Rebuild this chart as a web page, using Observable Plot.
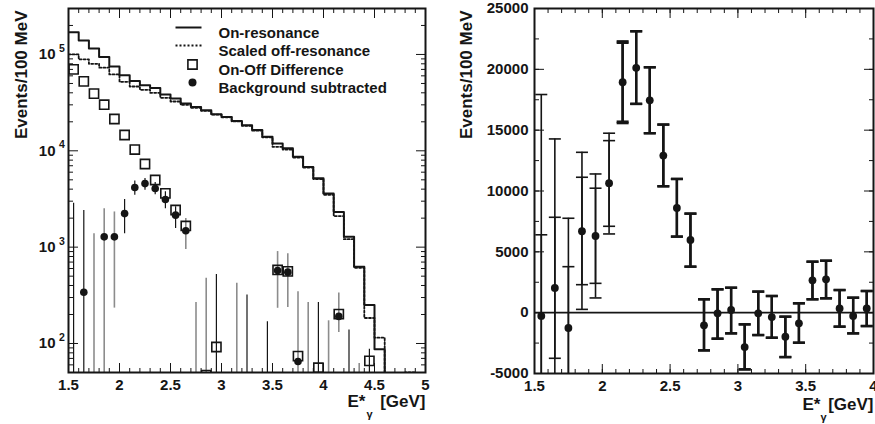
<!DOCTYPE html>
<html><head><meta charset="utf-8">
<script src="https://cdn.jsdelivr.net/npm/d3@7"></script>
<script src="https://cdn.jsdelivr.net/npm/@observablehq/plot@0.6"></script>
<style>
html,body{margin:0;padding:0;background:#fff;overflow:hidden;}
#wrap{position:relative;width:875px;height:424px;overflow:hidden;background:#fff;}
#left{position:absolute;left:0;top:0;width:440px;height:424px;}
#right{position:absolute;left:440px;top:0;width:460px;height:424px;}
svg{max-width:none !important;}
svg text{font-family:"Liberation Sans",Arial,Helvetica,sans-serif;font-weight:bold;}
</style></head><body>
<div id="wrap"><div id="left"></div><div id="right"></div></div>
<script>
// ---------- Left panel data (log scale) ----------
const binEdges = [1.5,1.6,1.7,1.8,1.9,2.0,2.1,2.2,2.3,2.4,2.5,2.6,2.7,2.8,2.9,3.0,3.1,3.2,3.3,3.4,3.5,3.6,3.7,3.8,3.9,4.0,4.1,4.2,4.3,4.4,4.5,4.6,4.7,4.8,4.9,5.0];
const onRes  = [170000,140000,115000,94000,75000,61000,53000,48000,45000,38500,35000,31000,28500,26300,24000,22500,20400,18400,16400,14000,11900,10600,8700,6800,5200,3600,2320,1280,625,251,87,30,25,20,15];
const offRes = [100000,89000,80000,73000,62000,52000,46500,43000,40000,35500,32500,30000,28000,26000,23800,22300,20200,18200,16200,13800,11000,10300,8500,6700,5100,3500,2100,1210,610,184,115,30,25,50,15];

const diffX = [1.55,1.65,1.75,1.85,1.95,2.05,2.15,2.25,2.35,2.45,2.55,2.65,2.85,2.95,3.55,3.65,3.75,3.95,4.15,4.45];
const diffY = [70000,52600,39200,30100,21400,14600,10300,7300,4980,3620,2430,1660,47,92,580,560,74,56,202,66];

const bgX = [1.65,1.85,1.95,2.05,2.15,2.25,2.35,2.45,2.55,2.65,3.55,3.65,3.75,4.15];
const bgY = [340,1280,1280,2230,4160,4570,4060,3120,2150,1480,571,550,65,191];

const errX     = [1.55,1.65,1.75,1.85,1.95,2.05,2.15,2.25,2.35,2.45,2.55,2.65,2.75,2.85,2.95,3.15,3.25,3.45,3.55,3.65,3.75,3.85,3.95,4.05,4.15,4.25,4.35,4.45];
const errLo    = [10,10,10,10,233,1380,3460,3900,3500,2510,1560,945,10,10,10,10,10,10,232,237,10,10,10,10,130,10,10,10];
const errHi    = [2860,2400,1380,2500,2320,3120,4870,5150,4700,3750,2620,1980,267,475,519,422,318,168,900,852,345,267,267,172,334,138,62,87];
const errColor = ["k","k","g","g","g","k","k","k","k","k","k","g","g","g","k","g","k","k","g","g","g","g","k","g","g","k","g","k"];

const decades = [100,1000,10000,100000];
const decadeExp = ["2","3","4","5"];
const xTicksLeft = [1.5,2,2.5,3,3.5,4,4.5,5];
const xTickLabelsLeft = ["1.5","2","2.5","3","3.5","4","4.5","5"];
const legendLabels = ["On-resonance","Scaled off-resonance","On-Off Difference","Background subtracted"];
const yLabel = "Events/100 MeV";

// ---------- Right panel data (linear) ----------
const rX = [1.55,1.65,1.75,1.85,1.95,2.05,2.15,2.25,2.35,2.45,2.55,2.65,2.75,2.85,2.95,3.05,3.15,3.25,3.35,3.45,3.55,3.65,3.75,3.85,3.95];
const rY = [-270,2030,-1260,6690,6300,10640,18940,20120,17450,12910,8610,5980,-1040,-50,220,-2830,-50,-360,-1970,-880,2660,2740,350,-270,350];
const rStatLo = [-7100,-3750,-6300,2300,2410,7100,15700,17160,14750,10390,6250,3780,-3100,-2140,-1700,-4660,-1840,-2060,-3650,-2470,1100,1180,-1150,-1700,-1100];
const rStatHi = [6400,7840,3780,11130,10230,14140,22180,23130,20170,15460,10990,8140,1100,1920,2050,-960,1730,1370,-330,770,4190,4270,1860,1230,1780];
const rTotLo  = [-18500,-10200,-10300,270,1210,6470,15580,17160,14750,10390,6250,3780,-3100,-2140,-1700,-4660,-1840,-2060,-3650,-2470,1100,1180,-1150,-1700,-1100];
const rTotHi  = [17930,14280,7760,13180,11400,14750,22300,23130,20170,15460,10990,8140,1100,1920,2050,-960,1730,1370,-330,770,4190,4270,1860,1230,1780];
const rYTicks = [-5000,0,5000,10000,15000,20000,25000];
const rYTickLabels = ["-5000","0","5000","10000","15000","20000","25000"];
const xTicksRight = [1.5,2,2.5,3,3.5,4];
const xTickLabelsRight = ["1.5","2","2.5","3","3.5","4"];

// ---------- helpers ----------
const INK = "#151515";
const GRAY = "#8c8c8c";
const FONT = "Liberation Sans, Arial, Helvetica, sans-serif";
const lineSym = {draw(ctx){ ctx.moveTo(-13,0); ctx.lineTo(13,0); }};
const squareSym = {draw(ctx){ ctx.rect(-4.6,-4.6,9.2,9.2); }};
const capSym = (w) => ({draw(ctx){ ctx.moveTo(-w,0); ctx.lineTo(w,0); }});

const minorX1 = d3.range(15, 51).map(v => v / 10);
const minorX2 = d3.range(15, 41).map(v => v / 10);
const minorLog = [];
for (const p of [10,100,1000,10000,100000]) for (let k = 2; k <= 9; k++) { const v = k*p; if (v >= 50 && v <= 3e5) minorLog.push(v); }
const minorLin = d3.range(-5000, 25001, 2500);

function xLabelMarks(gevDx, gamDx, eDx, dy) {
  return [
    Plot.text(["[GeV]"], {frameAnchor: "bottom-right", textAnchor: "end", dx: gevDx, dy: dy, fontSize: 17, fill: INK}),
    Plot.text(["\u03b3"], {frameAnchor: "bottom-right", textAnchor: "start", dx: gamDx, dy: dy + 11, fontSize: 11, fill: INK}),
    Plot.text(["E*"], {frameAnchor: "bottom-right", textAnchor: "end", dx: eDx, dy: dy, fontSize: 17, fill: INK})
  ];
}

// ---------- Left plot ----------
const histOn = binEdges.map((x, i) => ({x, y: onRes[Math.min(i, onRes.length - 1)]}));
const histOff = binEdges.map((x, i) => ({x, y: offRes[Math.min(i, offRes.length - 1)]}));
const diffData = diffX.map((x, i) => ({x, y: diffY[i]}));
const bgData = bgX.map((x, i) => ({x, y: bgY[i]}));
const errData = errX.map((x, i) => ({x, lo: errLo[i], hi: errHi[i], c: errColor[i] === "g" ? GRAY : INK, w: errColor[i] === "g" ? 1.6 : 1.2}));

const legendDy = [19, 37, 56, 74];
const legendSymbols = [
  {symbol: lineSym, dash: null, fill: "none", stroke: INK, sw: 2},
  {symbol: lineSym, dash: "2,2", fill: "none", stroke: INK, sw: 2},
  {symbol: squareSym, dash: null, fill: "none", stroke: INK, sw: 1.6},
  {symbol: "circle", dash: null, fill: INK, stroke: "none", sw: 0}
];

const left = Plot.plot({
  width: 440, height: 424,
  marginLeft: 68, marginRight: 15, marginTop: 8, marginBottom: 52,
  style: {fontFamily: FONT, fontWeight: "bold", fontSize: "15px", color: INK, background: "white", maxWidth: "none"},
  x: {domain: [1.5, 5]},
  y: {type: "log", domain: [50, 3e5]},
  color: {type: "identity"},
  marks: [
    Plot.ruleX(errData, {x: "x", y1: "lo", y2: "hi", stroke: "c", strokeWidth: "w", clip: true}),
    Plot.line(histOff, {x: "x", y: "y", curve: "step-after", stroke: INK, strokeWidth: 1.8, strokeDasharray: "2,2", clip: true}),
    Plot.line(histOn, {x: "x", y: "y", curve: "step-after", stroke: INK, strokeWidth: 2, clip: true}),
    Plot.dot(diffData, {x: "x", y: "y", symbol: squareSym, fill: "none", stroke: INK, strokeWidth: 1.6, clip: true}),
    Plot.dot(bgData, {x: "x", y: "y", r: 3.8, fill: INK, stroke: "none", clip: true}),
    // ticks (inside)
    Plot.axisX({anchor: "bottom", ticks: minorX1, tickSize: -4, tickFormat: () => "", label: null, stroke: INK}),
    Plot.axisX({anchor: "top", ticks: minorX1, tickSize: -4, tickFormat: () => "", label: null, stroke: INK}),
    Plot.axisX({anchor: "bottom", ticks: xTicksLeft, tickSize: -9, tickFormat: () => "", label: null, stroke: INK}),
    Plot.axisX({anchor: "top", ticks: xTicksLeft, tickSize: -9, tickFormat: () => "", label: null, stroke: INK}),
    Plot.axisX({anchor: "bottom", ticks: xTicksLeft, tickSize: 0, tickPadding: 7, tickFormat: (d, i) => xTickLabelsLeft[i], label: null, fontSize: 15, fill: INK}),
    Plot.axisY({anchor: "left", ticks: minorLog, tickSize: -5, tickFormat: () => "", label: null, stroke: INK}),
    Plot.axisY({anchor: "right", ticks: minorLog, tickSize: -5, tickFormat: () => "", label: null, stroke: INK}),
    Plot.axisY({anchor: "left", ticks: decades, tickSize: -10, tickFormat: () => "", label: null, stroke: INK}),
    Plot.axisY({anchor: "right", ticks: decades, tickSize: -10, tickFormat: () => "", label: null, stroke: INK}),
    Plot.text(decades, {y: d => d, frameAnchor: "left", text: () => "10", textAnchor: "end", dx: -13, fontSize: 15, fill: INK}),
    Plot.text(decades, {y: d => d, frameAnchor: "left", text: (d, i) => decadeExp[i], textAnchor: "start", dx: -9.5, dy: -6, fontSize: 10.5, fill: INK}),
    Plot.frame({stroke: INK, strokeWidth: 2}),
    // y label
    Plot.text([yLabel], {frameAnchor: "top-left", rotate: -90, textAnchor: "end", dx: -54, dy: 2, fontSize: 17, fill: INK}),
    ...xLabelMarks(0, -59, -60, 34),
    // legend
    ...legendLabels.map((t, i) => Plot.text([t], {frameAnchor: "top-left", textAnchor: "start", dx: 150, dy: legendDy[i], fontSize: 15, fill: INK})),
    ...legendSymbols.map((s, i) => Plot.dot([0], {frameAnchor: "top-left", dx: i < 2 ? 120 : 124, dy: legendDy[i], symbol: s.symbol, r: 4, fill: s.fill, stroke: s.stroke, strokeWidth: s.sw, strokeDasharray: s.dash}))
  ]
});
document.getElementById("left").appendChild(left);

// ---------- Right plot ----------
const rData = rX.map((x, i) => ({x, y: rY[i], slo: rStatLo[i], shi: rStatHi[i], tlo: rTotLo[i], thi: rTotHi[i], w: i >= 6 ? 2.4 : 1.6}));
const capW = 6;

const right = Plot.plot({
  width: 460, height: 424,
  marginLeft: 94, marginRight: 27, marginTop: 8, marginBottom: 51,
  style: {fontFamily: FONT, fontWeight: "bold", fontSize: "15px", color: INK, background: "white", maxWidth: "none"},
  x: {domain: [1.5, 4.0]},
  y: {domain: [-5000, 25000]},
  marks: [
    Plot.ruleY([0], {stroke: INK, strokeWidth: 1.6}),
    Plot.ruleX(rData, {x: "x", y1: "tlo", y2: "thi", stroke: INK, strokeWidth: "w", clip: true}),
    Plot.ruleX(rData, {x: "x", y1: "slo", y2: "shi", stroke: INK, strokeWidth: "w", clip: true}),
    Plot.dot(rData, {x: "x", y: "tlo", symbol: capSym(capW), stroke: INK, strokeWidth: "w", fill: "none", clip: true}),
    Plot.dot(rData, {x: "x", y: "thi", symbol: capSym(capW), stroke: INK, strokeWidth: "w", fill: "none", clip: true}),
    Plot.dot(rData, {x: "x", y: "slo", symbol: capSym(capW), stroke: INK, strokeWidth: "w", fill: "none", clip: true}),
    Plot.dot(rData, {x: "x", y: "shi", symbol: capSym(capW), stroke: INK, strokeWidth: "w", fill: "none", clip: true}),
    Plot.dot(rData, {x: "x", y: "y", r: 3.9, fill: INK, stroke: "none", clip: true}),
    Plot.axisX({anchor: "bottom", ticks: minorX2, tickSize: -4, tickFormat: () => "", label: null, stroke: INK}),
    Plot.axisX({anchor: "top", ticks: minorX2, tickSize: -4, tickFormat: () => "", label: null, stroke: INK}),
    Plot.axisX({anchor: "bottom", ticks: xTicksRight, tickSize: -9, tickFormat: () => "", label: null, stroke: INK}),
    Plot.axisX({anchor: "top", ticks: xTicksRight, tickSize: -9, tickFormat: () => "", label: null, stroke: INK}),
    Plot.axisX({anchor: "bottom", ticks: xTicksRight, tickSize: 0, tickPadding: 7, tickFormat: (d, i) => xTickLabelsRight[i], label: null, fontSize: 15, fill: INK}),
    Plot.axisY({anchor: "left", ticks: minorLin, tickSize: -5, tickFormat: () => "", label: null, stroke: INK}),
    Plot.axisY({anchor: "right", ticks: minorLin, tickSize: -5, tickFormat: () => "", label: null, stroke: INK}),
    Plot.axisY({anchor: "left", ticks: rYTicks, tickSize: -10, tickFormat: () => "", label: null, stroke: INK}),
    Plot.axisY({anchor: "right", ticks: rYTicks, tickSize: -10, tickFormat: () => "", label: null, stroke: INK}),
    Plot.axisY({anchor: "left", ticks: rYTicks, tickSize: 0, tickPadding: 6, tickFormat: (d, i) => rYTickLabels[i], label: null, fontSize: 15, fill: INK}),
    Plot.frame({stroke: INK, strokeWidth: 2}),
    Plot.text([yLabel], {frameAnchor: "top-left", rotate: -90, textAnchor: "end", dx: -75, dy: 2, fontSize: 17, fill: INK}),
    ...xLabelMarks(0, -53, -53, 36)
  ]
});
document.getElementById("right").appendChild(right);
</script>
</body></html>
